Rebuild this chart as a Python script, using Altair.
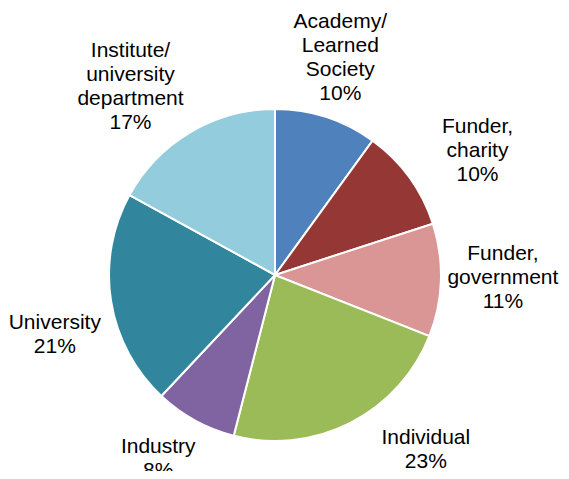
import altair as alt
import pandas as pd

categories = ["Academy/\nLearned\nSociety", "Funder,\ncharity", "Funder,\ngovernment",
              "Individual", "Industry", "University", "Institute/\nuniversity\ndepartment"]
values = [10, 10, 11, 23, 8, 21, 17]
colors = ["#4F81BD", "#953735", "#D99694", "#9BBB59", "#8064A2", "#31859C", "#93CDDD"]

df = pd.DataFrame({"cat": categories, "value": values, "order": list(range(len(values)))})

cx, cy = 267, 267
FS, LH = 21, 24

base = alt.Chart(df).transform_joinaggregate(
    total="sum(value)"
).transform_stack(
    stack="value", groupby=[], as_=["v0", "v1"], sort=[alt.SortField("order", order="ascending")]
).transform_calculate(
    a0="datum.v0 / datum.total * 2 * PI",
    a1="datum.v1 / datum.total * 2 * PI",
    amid="(datum.v0 + datum.v1) / 2 / datum.total * 2 * PI",
    lab="datum.cat + '\\n' + datum.value + '%'",
)

pie = base.mark_arc(outerRadius=166, stroke="white", strokeWidth=2).encode(
    theta=alt.Theta("a0:Q", scale=None),
    theta2="a1:Q",
    color=alt.Color("cat:N", scale=alt.Scale(domain=categories, range=colors), legend=None),
    x=alt.value(cx), y=alt.value(cy),
)

# label placement styling (radius from centre, nudge dx, nudge dy) per slice index
label_layout = [
    (0, 221, -3, -6.5),
    (6, 221, -32, 2.5),
    (1, 233, 14, 13),
    (2, 233, -5, -4),
    (5, 227, 4, 24.5),
    (3, 200, 60, -3),
    (4, 205, -18, 4),
]

layers = [pie]
for idx, r, dx, dy in label_layout:
    cat = categories[idx]
    nlines = cat.count("\n") + 2
    cond = "datum.order === %d" % idx
    layers.append(
        base.transform_filter(cond).mark_text(
            radius=r, dx=dx, dy=-(nlines - 1) * LH / 2 + dy,
            fontSize=FS, font="Liberation Sans", color="black",
            lineBreak="\n", baseline="middle", align="center", lineHeight=LH,
        ).encode(
            theta=alt.Theta("amid:Q", scale=None),
            text="lab:N", x=alt.value(cx), y=alt.value(cy),
        )
    )

chart = alt.layer(*layers).properties(
    width=553, height=463, padding=0,
    autosize=alt.AutoSizeParams(type="none"),
).configure_view(stroke=None)

chart.save("out.html", embed_options={"renderer": "svg", "actions": False})
